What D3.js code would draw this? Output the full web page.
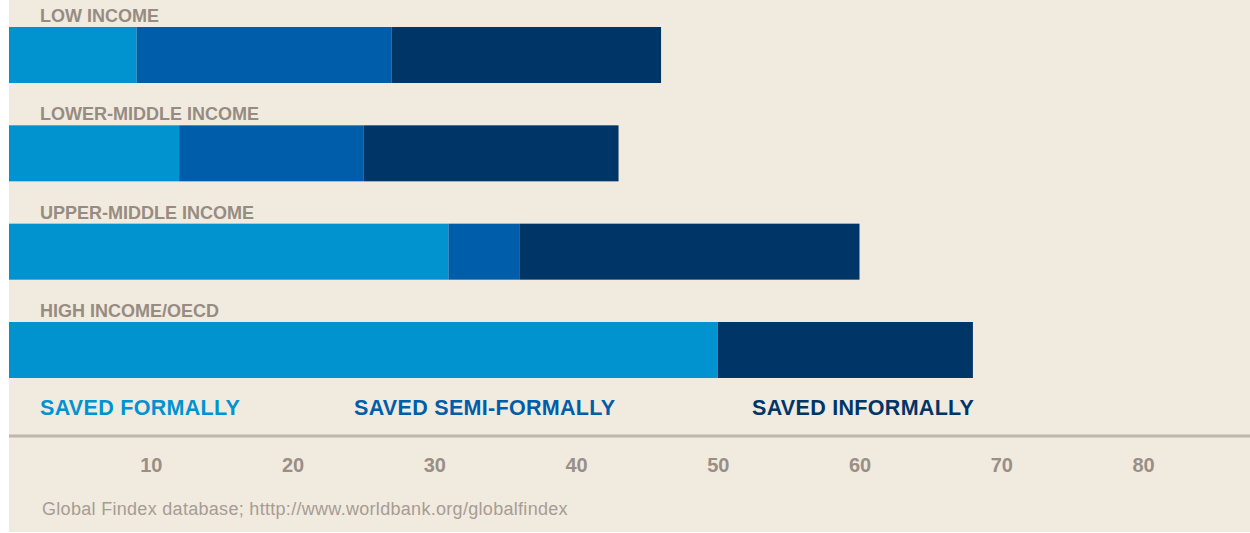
<!DOCTYPE html>
<html>
<head>
<meta charset="utf-8">
<script src="https://cdn.jsdelivr.net/npm/d3@7"></script>
<style>
    body { margin: 0; background: #ffffff; }
    svg { display: block; font-family: "Liberation Sans", Arial, sans-serif; }
</style>
</head>
<body>
<svg id="drawing_region"></svg>
<script>
const categories = ['LOW INCOME', 'LOWER-MIDDLE INCOME', 'UPPER-MIDDLE INCOME', 'HIGH INCOME/OECD'];
const seriesNames = ['SAVED FORMALLY', 'SAVED SEMI-FORMALLY', 'SAVED INFORMALLY'];
const savedFormally = [9, 12, 31, 50];
const savedSemiFormally = [18, 13, 5, 0];
const savedInformally = [19, 18, 24, 18];
const tickValues = [10, 20, 30, 40, 50, 60, 70, 80];
const sourceNote = 'Global Findex database; htttp://www.worldbank.org/globalfindex';

const colors = ['#0093d0', '#005da9', '#003567'];

var config = {
    parent: '#drawing_region',
    width: 1250,
    height: 533
};

const svg = d3.select(config.parent)
    .attr('width', config.width)
    .attr('height', config.height);

// beige panel
svg.append('rect')
    .attr('x', 9).attr('y', 0)
    .attr('width', config.width - 9).attr('height', 532)
    .attr('fill', '#f1eadf');

const data = categories.map((c, i) => ({
    category: c,
    formal: savedFormally[i],
    semi: savedSemiFormally[i],
    informal: savedInformally[i]
}));

const stack = d3.stack().keys(['formal', 'semi', 'informal']);
const series = stack(data);

const x = d3.scaleLinear().domain([0, 80]).range([9, 1143]);
const y = d3.scaleBand()
    .domain(categories)
    .range([27, 378])
    .paddingInner(0.4305)
    .paddingOuter(0);

svg.selectAll('g.series')
    .data(series)
    .enter()
    .append('g')
    .attr('class', 'series')
    .attr('fill', (d, i) => colors[i])
    .selectAll('rect')
    .data(d => d)
    .enter()
    .append('rect')
    .attr('x', d => x(d[0]))
    .attr('y', d => y(d.data.category))
    .attr('width', d => x(d[1]) - x(d[0]))
    .attr('height', y.bandwidth());

// category labels
svg.selectAll('text.cat')
    .data(categories)
    .enter()
    .append('text')
    .attr('class', 'cat')
    .attr('x', 40)
    .attr('y', d => y(d) - 5)
    .attr('fill', '#978c82')
    .style('font-size', '18px')
    .style('font-weight', 'bold')
    .text(d => d);

// legend
const legendX = [40, 354, 752];
svg.selectAll('text.legend')
    .data(seriesNames)
    .enter()
    .append('text')
    .attr('class', 'legend')
    .attr('x', (d, i) => legendX[i])
    .attr('y', 415)
    .attr('fill', (d, i) => colors[i])
    .style('font-size', '21.5px')
    .style('font-weight', 'bold')
    .style('letter-spacing', '0.3px')
    .text(d => d);

// axis line
svg.append('line')
    .attr('x1', 9).attr('x2', config.width)
    .attr('y1', 436).attr('y2', 436)
    .attr('stroke', '#beb5ad')
    .attr('stroke-width', 3);

const axis = svg.append('g')
    .attr('transform', 'translate(0, 472)')
    .call(d3.axisBottom(x).tickValues(tickValues).tickSize(0).tickPadding(0));
axis.select('.domain').remove();
axis.selectAll('text')
    .attr('fill', '#998f86')
    .attr('dy', null)
    .attr('y', 0)
    .style('font-family', '"Liberation Sans", Arial, sans-serif')
    .style('font-size', '20px')
    .style('font-weight', 'bold');

svg.append('text')
    .attr('x', 42)
    .attr('y', 515)
    .attr('fill', '#a69d94')
    .style('font-size', '18px')
    .style('letter-spacing', '0.3px')
    .text(sourceNote);
</script>
</body>
</html>
